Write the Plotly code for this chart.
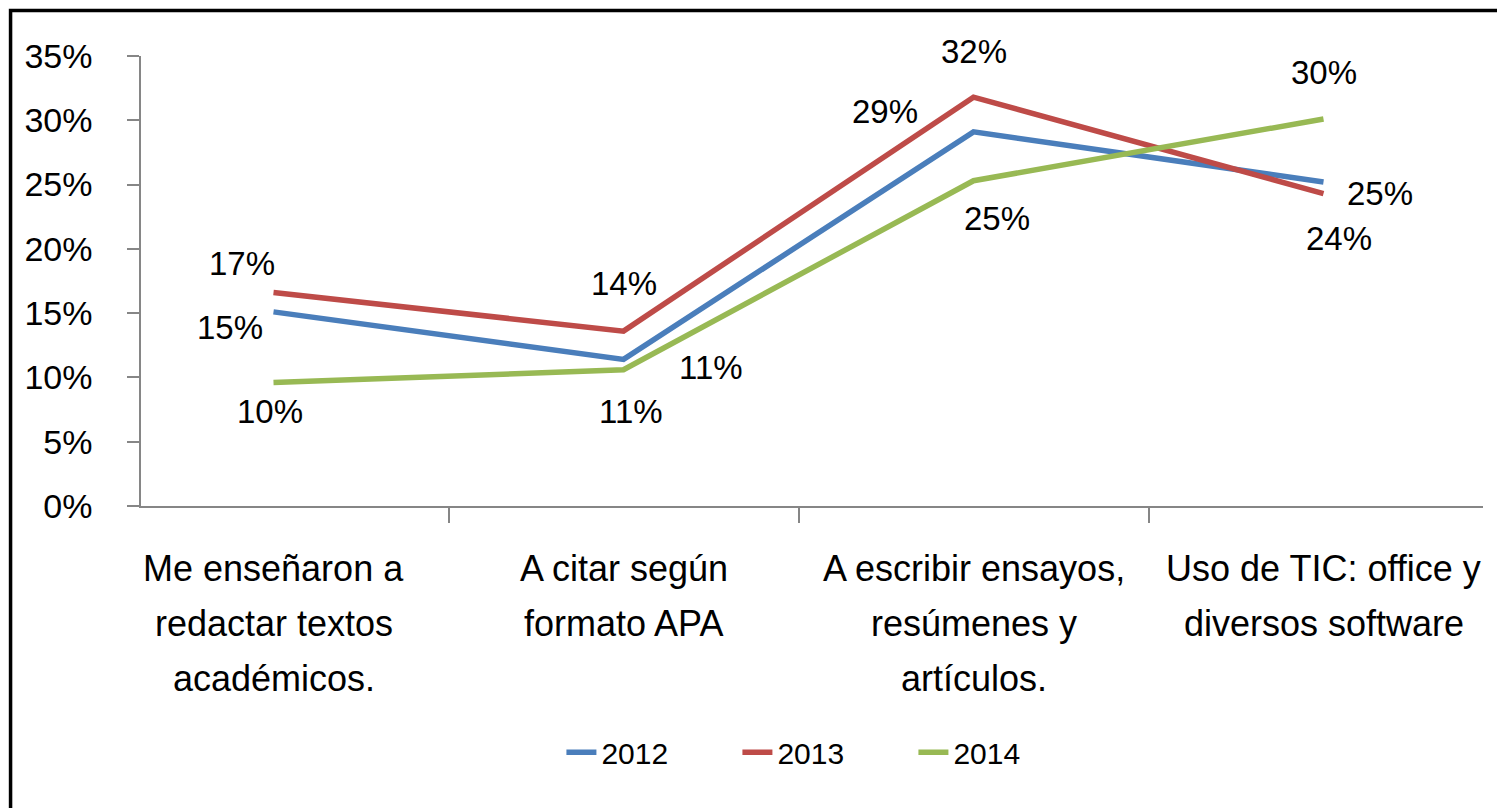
import plotly.graph_objects as go

categories = [
    "Me enseñaron a<br>redactar textos<br>académicos.",
    "A citar según<br>formato APA",
    "A escribir ensayos,<br>resúmenes y<br>artículos.",
    "Uso de TIC: office y<br>diversos software",
]
years = ["2012", "2013", "2014"]
values_2012 = [15.1, 11.4, 29.1, 25.2]
values_2013 = [16.6, 13.6, 31.8, 24.3]
values_2014 = [9.6, 10.6, 25.3, 30.1]
colors = ["#4A7EBB", "#BE4B48", "#98B954"]
y_ticks = [0, 5, 10, 15, 20, 25, 30, 35]

# label offsets (px) per series/point, as placed in the original
label_offsets = {
    "2012": [(-44, -16), (87, -8), (-89, 20), (56, -11)],
    "2013": [(-32, 29), (0, 48), (0, 46), (15, -45)],
    "2014": [(-4, -29), (7, -42), (23, -38), (0, 47)],
}

series = {"2012": values_2012, "2013": values_2013, "2014": values_2014}
FONT = "Liberation Sans, Arial, sans-serif"

fig = go.Figure()
annotations = []
for name, color in zip(years, colors):
    vals = series[name]
    fig.add_trace(go.Scatter(
        x=categories, y=vals, name=name, mode="lines",
        line=dict(color=color, width=5.5),
    ))
    for cat, v, (dx, dy) in zip(categories, vals, label_offsets[name]):
        annotations.append(dict(
            x=cat, y=v, xref="x", yref="y", text=f"{round(v)}%",
            showarrow=False, xshift=dx, yshift=dy,
            font=dict(family=FONT, size=33, color="#000000"),
        ))

# category labels, one text line each (to reproduce the wider line spacing)
for cat in categories:
    for i, line in enumerate(cat.split("<br>")):
        annotations.append(dict(
            x=cat, y=0, xref="x", yref="paper", text=line,
            showarrow=False, yanchor="middle", xanchor="center",
            yshift=-62 - i * 55,
            font=dict(family=FONT, size=36, color="#000000"),
        ))

fig.update_layout(
    width=1497, height=800,
    margin=dict(l=133, r=22, t=48, b=302),
    paper_bgcolor="white", plot_bgcolor="white",
    font=dict(family=FONT, color="#000000"),
    showlegend=True,
    legend=dict(
        orientation="h", x=0.51, y=-0.547, xanchor="center", yanchor="middle",
        font=dict(family=FONT, size=30, color="#000000"),
        entrywidth=131, entrywidthmode="pixels",
    ),
    annotations=annotations,
    shapes=[dict(
        type="rect", xref="paper", yref="paper",
        x0=-0.0972, x1=1.2, y0=-0.9, y1=1.101,
        line=dict(color="#000000", width=3.5), layer="above",
    )],
)
fig.update_xaxes(
    type="category", showgrid=False, showline=True, linecolor="#868686", linewidth=1.5,
    ticks="outside", tickson="boundaries", ticklen=15, tickcolor="#868686", tickwidth=1.5,
    showticklabels=False, automargin=False,
)
fig.update_yaxes(
    range=[0, 35], tickvals=y_ticks, ticktext=[f"{t}%" for t in y_ticks],
    showgrid=False, showline=True, linecolor="#868686", linewidth=1.5,
    ticks="outside", ticklen=12, tickcolor="#868686", tickwidth=1.5,
    tickfont=dict(family=FONT, size=34, color="#000000"), ticklabelstandoff=28,
    zeroline=False, automargin=False,
)

fig.write_html("out.html")
